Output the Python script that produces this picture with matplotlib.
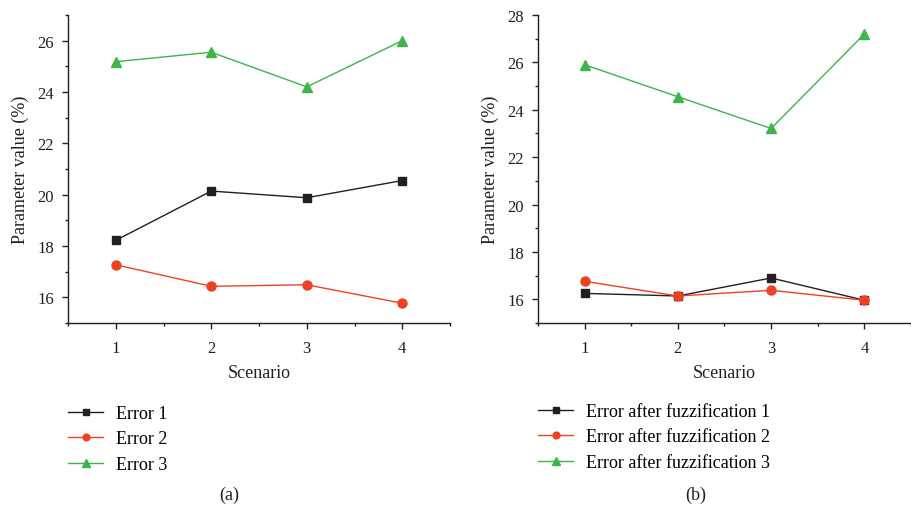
import matplotlib
matplotlib.use("Agg")
import matplotlib.pyplot as plt
from matplotlib.ticker import MultipleLocator

plt.rcParams['font.family'] = ['Liberation Serif', 'DejaVu Serif']
plt.rcParams['font.size'] = 12

scenarios = [1, 2, 3, 4]
err1 = [18.22, 20.14, 19.88, 20.55]
err2 = [17.27, 16.43, 16.49, 15.77]
err3 = [25.18, 25.55, 24.20, 26.00]
fz1 = [16.25, 16.14, 16.90, 15.96]
fz2 = [16.76, 16.14, 16.38, 15.96]
fz3 = [25.90, 24.55, 23.21, 27.20]

labels_a = ["Error 1", "Error 2", "Error 3"]
labels_b = ["Error after fuzzification 1", "Error after fuzzification 2", "Error after fuzzification 3"]
colors = ["#231f20", "#ee4123", "#3db54a"]
markers = ["s", "o", "^"]
msizes = [6, 6.5, 7.5]
ink = '#231f20'

fig = plt.figure(figsize=(9.12, 5.10), dpi=100)
axa = fig.add_axes([68/912, 1-324/510, (450-68)/912, (324-16)/510])
axb = fig.add_axes([538/912, 1-324/510, (911-538)/912, (324-16)/510])

def style(ax, ylim, ticks):
    ax.set_xlim(0.5, 4.5)
    ax.set_ylim(*ylim)
    ax.set_xticks(scenarios)
    ax.set_yticks(ticks)
    ax.xaxis.set_minor_locator(MultipleLocator(0.5))
    ax.yaxis.set_minor_locator(MultipleLocator(1))
    for s in ['top', 'right']:
        ax.spines[s].set_visible(False)
    for s in ['left', 'bottom']:
        ax.spines[s].set_linewidth(1.0)
        ax.spines[s].set_color(ink)
    ax.tick_params(which='major', direction='out', length=4, width=1, colors=ink, labelsize=12)
    ax.tick_params(axis='x', which='major', pad=8)
    ax.tick_params(axis='y', which='major', pad=6)
    ax.tick_params(which='minor', direction='out', length=2.5, width=1, colors=ink)
    ax.set_xlabel("Scenario", fontsize=13, color=ink, labelpad=6)
    ax.set_ylabel("Parameter value (%)", fontsize=13, color=ink, labelpad=6)

handles_a = []
for ys, c, m, ms, lab in zip([err1, err2, err3], colors, markers, msizes, labels_a):
    h, = axa.plot(scenarios, ys, color=c, marker=m, markersize=ms, linewidth=1.0, label=lab)
    handles_a.append(h)
handles_b = []
for ys, c, m, ms, lab in zip([fz1, fz2, fz3], colors, markers, msizes, labels_b):
    h, = axb.plot(scenarios, ys, color=c, marker=m, markersize=ms, linewidth=1.0, label=lab)
    handles_b.append(h)

style(axa, (15, 27), [16, 18, 20, 22, 24, 26])
style(axb, (15, 28), [16, 18, 20, 22, 24, 26, 28])

leg_kw = dict(loc='upper left', frameon=False, fontsize=13, handlelength=1.95,
              handletextpad=0.7, labelspacing=0.47, markerscale=0.75,
              borderpad=0, borderaxespad=0)
fig.legend(handles=handles_a, labels=labels_a, bbox_to_anchor=(68/912, 1-406/510), **leg_kw)
fig.legend(handles=handles_b, labels=labels_b, bbox_to_anchor=(538/912, 1-404/510), **leg_kw)

fig.text(229/912, 1-495/510, "(a)", ha='center', va='center', fontsize=13, color=ink)
fig.text(696/912, 1-495/510, "(b)", ha='center', va='center', fontsize=13, color=ink)

fig.savefig("out.png", dpi=100)
